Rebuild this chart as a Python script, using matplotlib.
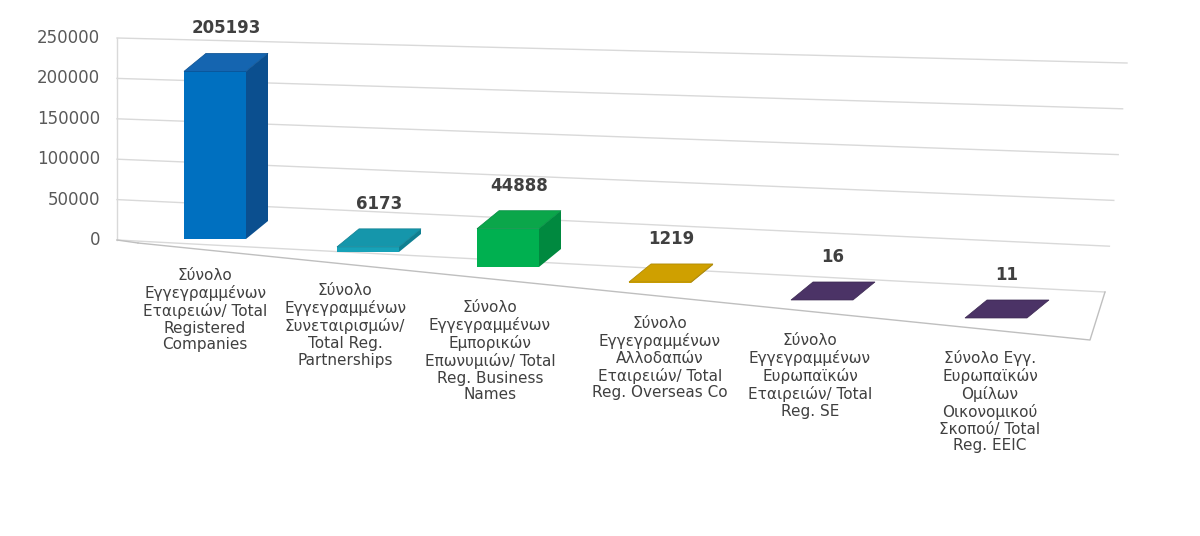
import matplotlib.pyplot as plt
from matplotlib.patches import Polygon
import numpy as np

categories = [
    "Σύνολο\nΕγγεγραμμένων\nΕταιρειών/ Total\nRegistered\nCompanies",
    "Σύνολο\nΕγγεγραμμένων\nΣυνεταιρισμών/\nTotal Reg.\nPartnerships",
    "Σύνολο\nΕγγεγραμμένων\nΕμπορικών\nΕπωνυμιών/ Total\nReg. Business\nNames",
    "Σύνολο\nΕγγεγραμμένων\nΑλλοδαπών\nΕταιρειών/ Total\nReg. Overseas Co",
    "Σύνολο\nΕγγεγραμμένων\nΕυρωπαϊκών\nΕταιρειών/ Total\nReg. SE",
    "Σύνολο Εγγ.\nΕυρωπαϊκών\nΟμίλων\nΟικονομικού\nΣκοπού/ Total\nReg. EEIC",
]
values = [205193, 6173, 44888, 1219, 16, 11]
yticks = [0, 50000, 100000, 150000, 200000, 250000]
ymax = 250000

# front / side / top colours per bar
colors = [
    ("#0070C0", "#0B4F8F", "#1565B0"),
    ("#17A2B8", "#0F7F91", "#1596AB"),
    ("#00B050", "#00893F", "#0BA64A"),
    ("#D4A500", "#A88300", "#CFA000"),
    ("#4B3366", "#3A2750", "#4B3366"),
    ("#4B3366", "#3A2750", "#4B3366"),
]

# pseudo-3D geometry (pixel space)
back_l, back_r = np.array([117, 240]), np.array([1105, 292])
front_l, front_r = np.array([138, 243]), np.array([1090, 340])
bar_x = [215, 368, 508, 660, 822, 996]      # front-bottom centre of each bar
bar_y = [239, 252, 267, 283, 300, 318]
label_x = [205, 345, 490, 660, 810, 990]
label_y = [268, 283, 300, 316, 333, 350]


def wall(u, f):
    p = back_l + (back_r - back_l) * u
    h = 202 + 27 * u
    return p[0] + 22 * f * u, p[1] - h * f


fig = plt.figure(figsize=(12, 5.36), dpi=100)
ax = fig.add_axes([0, 0, 1, 1])
ax.set_xlim(0, 1200)
ax.set_ylim(536, 0)
ax.axis("off")

# back wall gridlines + ticks
for t in yticks:
    f = t / ymax
    x0, y0 = wall(0, f)
    x1, y1 = wall(1, f)
    ax.plot([x0, x1], [y0, y1], color="#D9D9D9", lw=1, zorder=1)
    ax.text(100, y0, str(t), ha="right", va="center", fontsize=12, color="#595959")
ax.plot([117, 117], [wall(0, 1)[1], 240], color="#D9D9D9", lw=1, zorder=1)
# floor outline
ax.plot([front_l[0], front_r[0], back_r[0]], [front_l[1], front_r[1], back_r[1]],
        color="#BFBFBF", lw=1, zorder=1)
ax.plot([back_l[0], front_l[0]], [back_l[1], front_l[1]], color="#BFBFBF", lw=1, zorder=1)

n = len(values)
bw = 62
dx, dy = 22, -18
for i, (v, c) in enumerate(zip(values, colors)):
    u = (i + 0.5) / n
    bx, yb = bar_x[i], bar_y[i]
    h = (202 + 27 * u) * v / ymax
    x0, x1 = bx - bw / 2, bx + bw / 2
    yt = yb - h
    front = [(x0, yb), (x1, yb), (x1, yt), (x0, yt)]
    side = [(x1, yb), (x1 + dx, yb + dy), (x1 + dx, yt + dy), (x1, yt)]
    top = [(x0, yt), (x1, yt), (x1 + dx, yt + dy), (x0 + dx, yt + dy)]
    ax.add_patch(Polygon(side, closed=True, fc=c[1], ec="none", zorder=3))
    ax.add_patch(Polygon(front, closed=True, fc=c[0], ec="none", zorder=3))
    ax.add_patch(Polygon(top, closed=True, fc=c[2], ec=c[1], lw=0.5, zorder=3))
    ax.text(bx + dx / 2, yt + dy - 16, str(v), ha="center", va="bottom",
            fontsize=12, fontweight="bold", color="#404040", zorder=4)

for lab, lx, ly in zip(categories, label_x, label_y):
    ax.text(lx, ly, lab, ha="center", va="top", fontsize=11, color="#404040", linespacing=1.15)

fig.savefig("out.png", dpi=100, facecolor="white")
